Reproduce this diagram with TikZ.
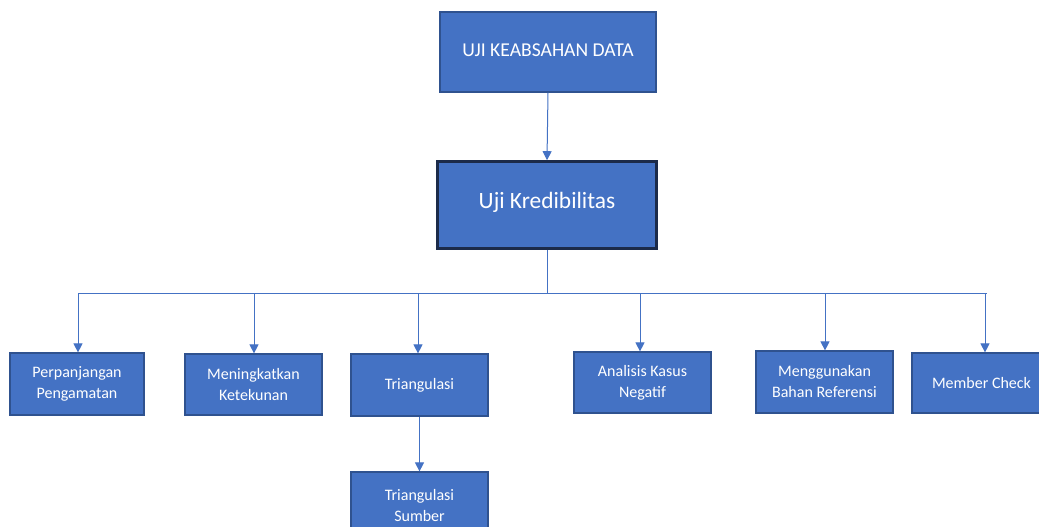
\documentclass[tikz,border=0pt]{standalone}
\usepackage{fontspec}
\setmainfont{Carlito}
\usetikzlibrary{arrows.meta,positioning}
\definecolor{boxblue}{HTML}{4472C4}
\definecolor{boxedge}{HTML}{2F528F}
\definecolor{darkedge}{HTML}{1C2B4A}
\definecolor{lineblue}{HTML}{4472C4}
\tikzset{
  box/.style={draw=boxedge, line width=1.2pt, fill=boxblue, text=white, align=center, inner sep=0pt},
  small/.style={box, font=\fontsize{16}{21}\selectfont},
  conn/.style={draw=lineblue, line width=1pt},
  arr/.style={conn, -{Triangle[width=9pt,length=9pt]}}
}
\begin{document}
\begin{tikzpicture}[x=1pt,y=-1pt]
\useasboundingbox (0,0) rectangle (1039,527);
\clip (0,0) rectangle (1039,527);
\fill[white] (0,0) rectangle (1039,527);
\node[box, minimum width=216pt, minimum height=80pt, font=\fontsize{19.6}{23}\selectfont] (top) at (548,52) {\raisebox{3pt}{UJI KEABSAHAN DATA}};
\node[box, draw=darkedge, line width=2.6pt, minimum width=219pt, minimum height=87pt, font=\fontsize{23.4}{28}\selectfont] (kred) at (547,205) {\raisebox{10pt}{Uji Kredibilitas}};
\node[small, minimum width=134pt, minimum height=62pt] (perp) at (77,384) {Perpanjangan\\Pengamatan};
\node[small, minimum width=137pt, minimum height=61pt] (men) at (253.5,384.5) {Meningkatkan\\Ketekunan};
\node[small, minimum width=137pt, minimum height=62pt] (tri) at (419.5,385) {Triangulasi};
\node[small, minimum width=137pt, minimum height=66pt] (trs) at (419.5,505) {Triangulasi\\Sumber};
\node[small, minimum width=137pt, minimum height=61pt] (ana) at (642.5,382.5) {Analisis Kasus\\Negatif};
\node[small, minimum width=137pt, minimum height=62pt] (meng) at (824.5,382) {Menggunakan\\Bahan Referensi};
\node[small, minimum width=139pt, minimum height=60pt] (mem) at (981.5,383) {Member Check};
\coordinate (busL) at (78,293);
\coordinate (busR) at (987,293);
\coordinate (b1) at (78,293);
\coordinate (b2) at (254,293);
\coordinate (b3) at (418,293);
\coordinate (b4) at (640,293);
\coordinate (b5) at (825,293);
\coordinate (b6) at (985,293);
\draw[arr] (top.south) -- (kred.north);
\draw[conn] (kred.south) -- (kred.south |- busL);
\draw[conn] (busL) -- (busR);
\draw[arr] (b1) -- (b1 |- perp.north);
\draw[arr] (b2) -- (b2 |- men.north);
\draw[arr] (b3) -- (b3 |- tri.north);
\draw[arr] (b4) -- (b4 |- ana.north);
\draw[arr] (b5) -- (b5 |- meng.north);
\draw[arr] (b6) -- (b6 |- mem.north);
\draw[arr] (tri.south) -- (trs.north);
\end{tikzpicture}
\end{document}
